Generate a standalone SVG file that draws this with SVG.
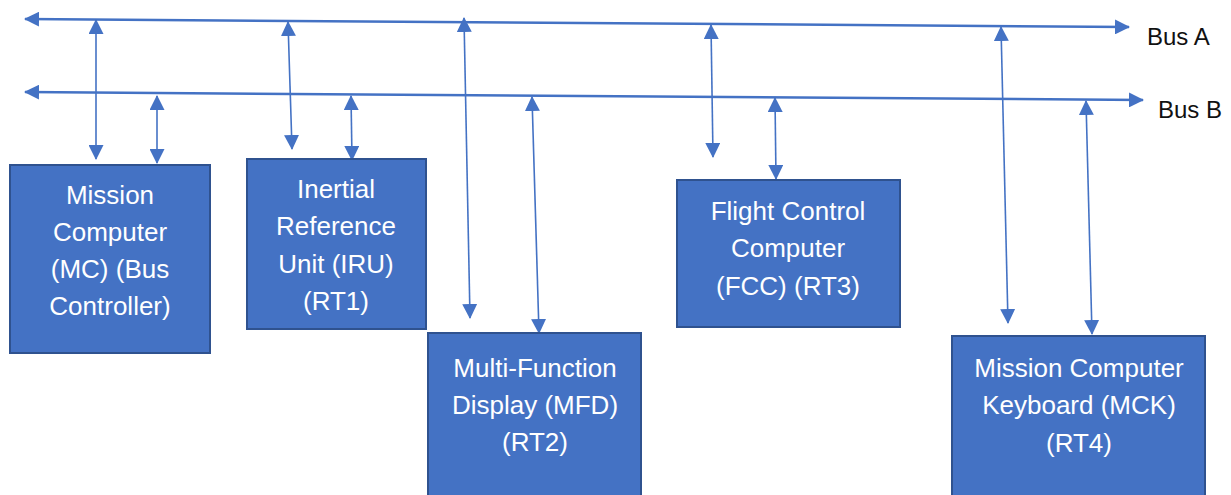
<svg xmlns="http://www.w3.org/2000/svg" width="1231" height="495" viewBox="0 0 1231 495">
<style>
.box{fill:#4472C4;stroke:#2F528F;stroke-width:2}
.bt{fill:#ffffff;font-family:"Liberation Sans",Arial,sans-serif;font-size:26px;text-anchor:middle}
.lbl{fill:#111111;font-family:"Liberation Sans",Arial,sans-serif;font-size:24px}
.bus{stroke:#4472C4;stroke-width:2.5;fill:none;marker-start:url(#ah);marker-end:url(#ah)}
.con{stroke:#4472C4;stroke-width:1.6;fill:none;marker-start:url(#ah);marker-end:url(#ah)}
</style>
<defs>
<marker id="ah" markerUnits="userSpaceOnUse" markerWidth="15" markerHeight="15" viewBox="0 0 15 15" refX="14" refY="7.5" orient="auto-start-reverse">
<path d="M0,0 L15,7.5 L0,15 Z" fill="#4472C4"/>
</marker>
</defs>
<rect width="1231" height="495" fill="#ffffff"/>
<g id="connectors">
<line class="bus" x1="25" y1="19" x2="1129" y2="27"/>
<line class="bus" x1="25" y1="92" x2="1143" y2="100"/>
<line class="con" x1="96" y1="20" x2="96" y2="159"/>
<line class="con" x1="157" y1="96" x2="157" y2="163"/>
<line class="con" x1="288" y1="22" x2="292" y2="149"/>
<line class="con" x1="351" y1="96" x2="352" y2="160"/>
<line class="con" x1="464" y1="18" x2="470" y2="318"/>
<line class="con" x1="532" y1="97" x2="539" y2="333"/>
<line class="con" x1="711" y1="25" x2="713" y2="157"/>
<line class="con" x1="775" y1="98" x2="776" y2="179"/>
<line class="con" x1="1001" y1="27" x2="1008" y2="323"/>
<line class="con" x1="1086" y1="101" x2="1092" y2="334"/>
</g>
<g id="bus-labels">
<text class="lbl" x="1147" y="45">Bus A</text>
<text class="lbl" x="1158" y="118">Bus B</text>
</g>
<g id="mc">
<rect class="box" x="10" y="165" width="200" height="188"/>
<text class="bt" x="110" y="204">Mission</text>
<text class="bt" x="110" y="241">Computer</text>
<text class="bt" x="110" y="278">(MC) (Bus</text>
<text class="bt" x="110" y="315">Controller)</text>
</g>
<g id="iru">
<rect class="box" x="247" y="159" width="179" height="170"/>
<text class="bt" x="336" y="198">Inertial</text>
<text class="bt" x="336" y="235">Reference</text>
<text class="bt" x="336" y="273">Unit (IRU)</text>
<text class="bt" x="336" y="310">(RT1)</text>
</g>
<g id="mfd">
<rect class="box" x="428" y="333" width="213" height="175"/>
<text class="bt" x="535" y="377">Multi-Function</text>
<text class="bt" x="535" y="414">Display (MFD)</text>
<text class="bt" x="535" y="451">(RT2)</text>
</g>
<g id="fcc">
<rect class="box" x="677" y="180" width="223" height="147"/>
<text class="bt" x="788" y="220">Flight Control</text>
<text class="bt" x="788" y="257">Computer</text>
<text class="bt" x="788" y="295">(FCC) (RT3)</text>
</g>
<g id="mck">
<rect class="box" x="952" y="336" width="253" height="175"/>
<text class="bt" x="1079" y="377">Mission Computer</text>
<text class="bt" x="1079" y="414">Keyboard (MCK)</text>
<text class="bt" x="1079" y="452">(RT4)</text>
</g>
</svg>
